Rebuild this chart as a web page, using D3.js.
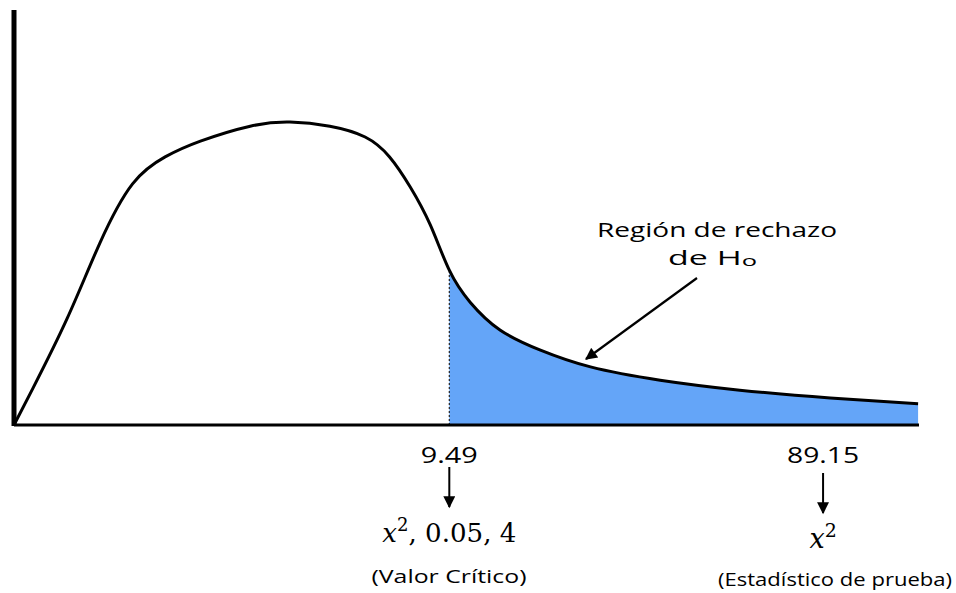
<!DOCTYPE html>
<html>
<head>
<meta charset="utf-8">
<script src="https://cdn.jsdelivr.net/npm/d3@7"></script>
<style>
body{margin:0;background:#fff;}
svg{display:block;}
</style>
</head>
<body>
<div class="chart"></div>
<script>
// curve of the chi-square sketch, in chart units (x 0..100, y 0..100)
const curveX=[0,2.1,5.9,9.5,13.1,16.7,20.6,26.1,30.5,34.9,38.8,41.5,43.8,46.0,48.1,50.4,53.7,58.1,63.7,71.4,80.2,90.2,99.9]
const curveY=[0,8.9,25.8,43.9,58.1,64.6,68.4,72.0,73.0,72.0,69.4,64.6,57.3,48.2,37.3,29.6,22.9,18.1,14.0,10.8,8.4,6.5,5.1]
const critX=48.1
const statX=89.4
const tickLabels=['9.49','89.15']
const mathLabels=['x','x']
const noteLabels=['(Valor Crítico)','(Estadístico de prueba)']

const width=956, height=593
const svg=d3.select('.chart').append('svg')
	.attr('width',width)
	.attr('height',height)

const x=d3.scaleLinear().domain([0,100]).range([14,919])
const y=d3.scaleLinear().domain([0,100]).range([425,10])

const points=curveX.map((v,i)=>({x:v,y:curveY[i]}))
const tail=points.filter(d=>d.x>=critX)

// shaded rejection region
svg.append('path')
	.datum(tail)
	.attr('d',d3.area().x(d=>x(d.x)).y0(y(0)).y1(d=>y(d.y)).curve(d3.curveNatural))
	.attr('fill','#64a5f8')

// dotted line at critical value
svg.append('line')
	.attr('x1',x(critX)).attr('x2',x(critX))
	.attr('y1',y(0)).attr('y2',y(tail[0].y))
	.attr('stroke','#222')
	.attr('stroke-width',1.2)
	.attr('stroke-dasharray','2,2')

// axes
svg.append('line')
	.attr('x1',x(0)).attr('x2',x(0))
	.attr('y1',y(100)).attr('y2',y(0)+1)
	.attr('stroke','#000').attr('stroke-width',5)
svg.append('line')
	.attr('x1',x(0)).attr('x2',x(100))
	.attr('y1',y(0)).attr('y2',y(0))
	.attr('stroke','#000').attr('stroke-width',3)

// curve
svg.append('path')
	.datum(points)
	.attr('d',d3.line().x(d=>x(d.x)).y(d=>y(d.y)).curve(d3.curveNatural))
	.attr('fill','none')
	.attr('stroke','#000')
	.attr('stroke-width',3)

const defs=svg.append('defs')
defs.append('marker')
	.attr('id','head')
	.attr('viewBox','0 0 10 10')
	.attr('refX',9).attr('refY',5)
	.attr('markerWidth',14).attr('markerHeight',12)
	.attr('markerUnits','userSpaceOnUse')
	.attr('orient','auto')
	.append('path').attr('d','M0,0L10,5L0,10z').attr('fill','#000')

// label for rejection region
svg.append('text')
	.attr('x',717).attr('y',237)
	.attr('text-anchor','middle')
	.attr('font-family','Open Sans')
	.attr('font-size',20)
	.attr('textLength',240).attr('lengthAdjust','spacingAndGlyphs')
	.text('Región de rechazo')
const h0=svg.append('text')
	.attr('x',668).attr('y',265)
	.attr('font-family','Open Sans')
	.attr('font-size',20)
	.attr('textLength',89).attr('lengthAdjust','spacingAndGlyphs')
h0.append('tspan').text('de H')
h0.append('tspan').attr('font-size',15).attr('dy',1).text('o')

svg.append('line')
	.attr('x1',697).attr('y1',278)
	.attr('x2',586).attr('y2',359)
	.attr('stroke','#000').attr('stroke-width',2.2)
	.attr('marker-end','url(#head)')

// value labels under the axis
const marks=[critX,statX]
svg.selectAll('.tick-label')
	.data(tickLabels)
	.enter()
	.append('text')
	.attr('class','tick-label')
	.attr('x',(d,i)=>x(marks[i]))
	.attr('y',463)
	.attr('text-anchor','middle')
	.attr('font-family','Open Sans')
	.attr('font-size',21)
	.attr('textLength',(d,i)=>i==0?57:72).attr('lengthAdjust','spacingAndGlyphs')
	.text(d=>d)

svg.selectAll('.down')
	.data(marks)
	.enter()
	.append('line')
	.attr('class','down')
	.attr('x1',d=>x(d)).attr('x2',d=>x(d))
	.attr('y1',(d,i)=>i==0?467:473)
	.attr('y2',(d,i)=>i==0?507:513)
	.attr('stroke','#000').attr('stroke-width',2)
	.attr('marker-end','url(#head)')

// math labels
const m1=svg.append('text')
	.attr('x',x(critX)).attr('y',542)
	.attr('text-anchor','middle')
	.attr('font-family','DejaVu Serif')
	.attr('font-size',26)
	.attr('textLength',134).attr('lengthAdjust','spacingAndGlyphs')
m1.append('tspan').attr('font-style','italic').text(mathLabels[0])
m1.append('tspan').attr('font-size',18).attr('dy',-11).text('2')
m1.append('tspan').attr('dy',11).text(', 0.05, 4')

const m2=svg.append('text')
	.attr('x',x(statX)).attr('y',548)
	.attr('text-anchor','middle')
	.attr('font-family','DejaVu Serif')
	.attr('font-size',27)
m2.append('tspan').attr('font-style','italic').text(mathLabels[1])
m2.append('tspan').attr('font-size',19).attr('dy',-11).text('2')

svg.append('text')
	.attr('x',449).attr('y',583)
	.attr('text-anchor','middle')
	.attr('font-family','Open Sans')
	.attr('font-size',19)
	.attr('textLength',155).attr('lengthAdjust','spacingAndGlyphs')
	.text(noteLabels[0])
svg.append('text')
	.attr('x',718).attr('y',586)
	.attr('font-family','Open Sans')
	.attr('font-size',19)
	.attr('textLength',234).attr('lengthAdjust','spacingAndGlyphs')
	.text(noteLabels[1])
</script>
</body>
</html>
